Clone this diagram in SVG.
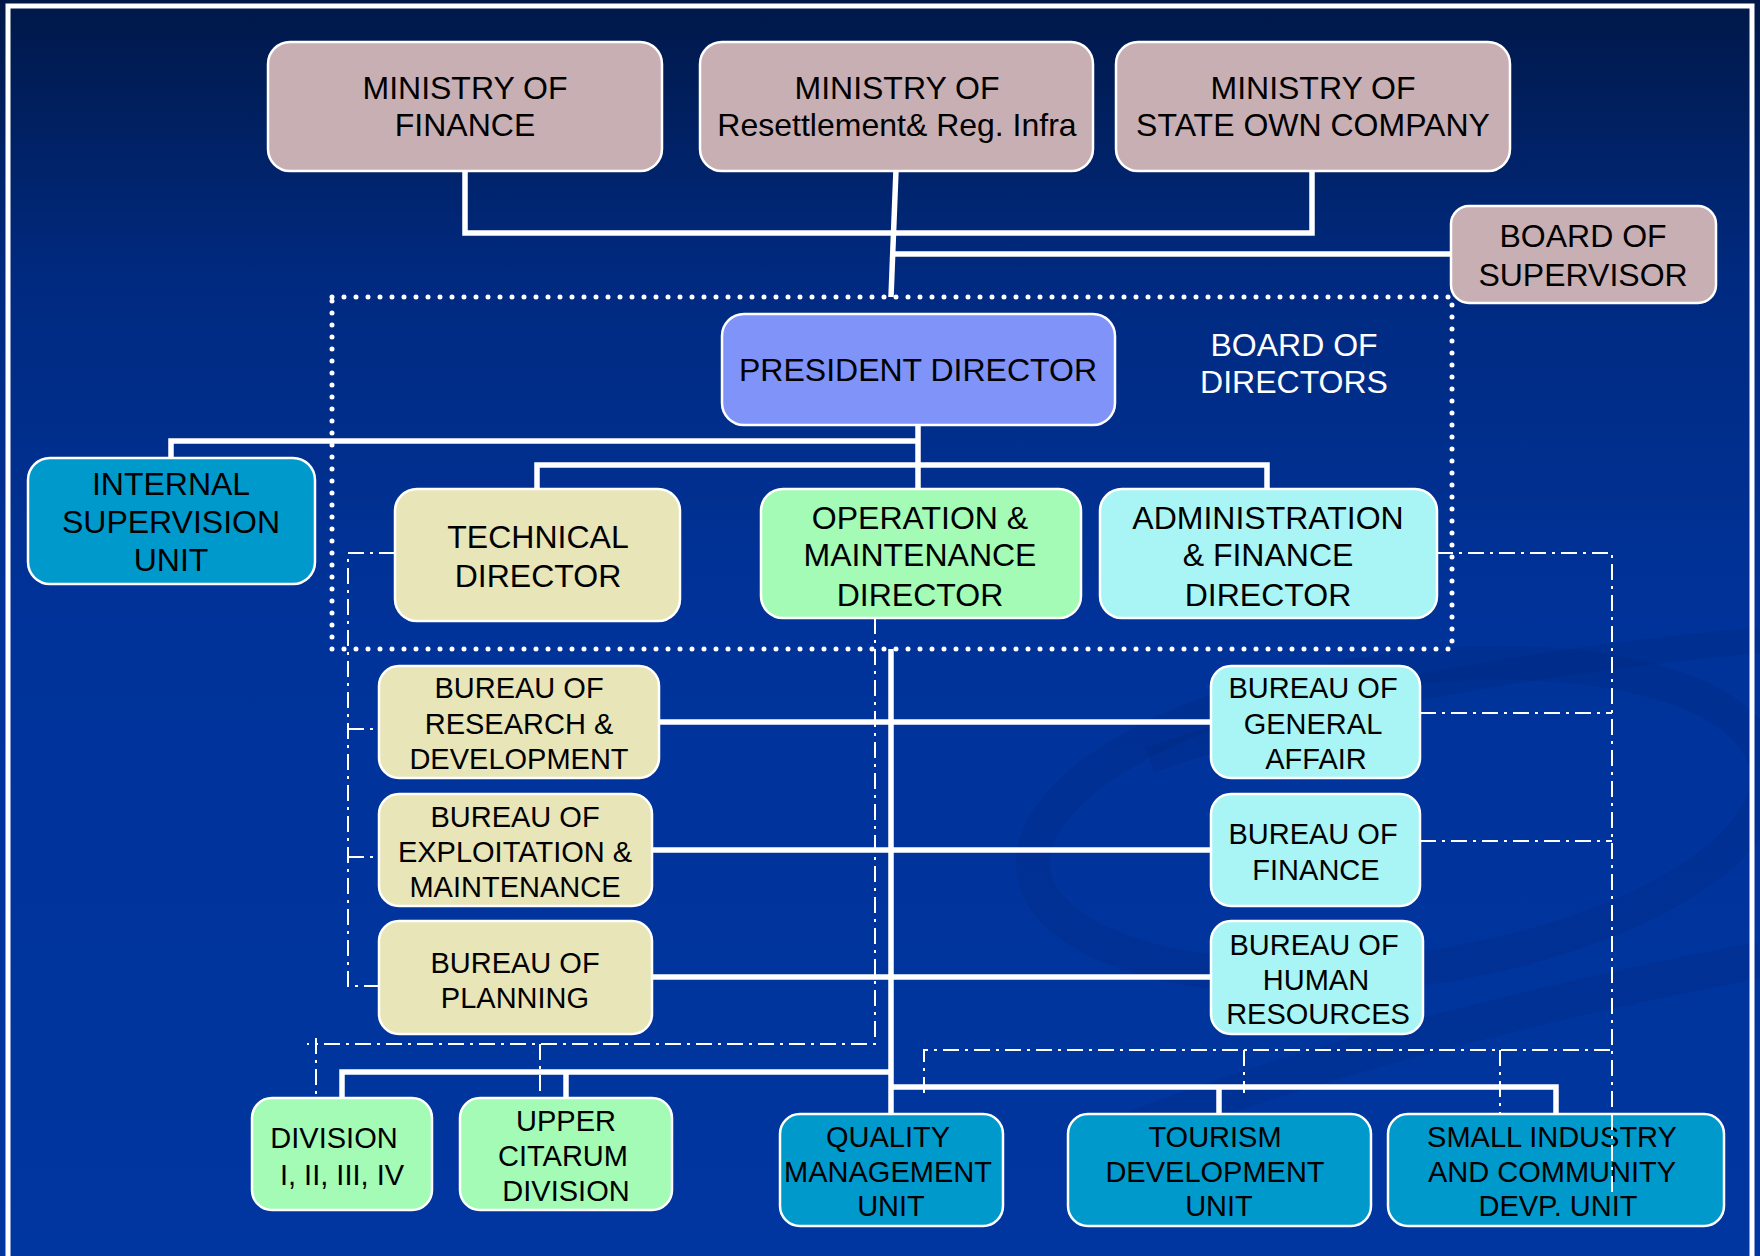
<svg xmlns="http://www.w3.org/2000/svg" width="1760" height="1256" viewBox="0 0 1760 1256">
<defs>
<linearGradient id="bg" x1="0" y1="0" x2="0" y2="1">
<stop offset="0" stop-color="#001848"/>
<stop offset="0.22" stop-color="#002a80"/>
<stop offset="0.5" stop-color="#00339a"/>
<stop offset="1" stop-color="#0036a0"/>
</linearGradient>
<style>
.box{stroke:#ffffff;stroke-width:2.5}
.pink{fill:#c8afb4}
.peri{fill:#7f93f8}
.teal{fill:#0099cc}
.beige{fill:#e8e5b9}
.green{fill:#a3fbb5}
.cyan{fill:#a9f5f5}
text{font-family:"Liberation Sans",Arial,sans-serif;fill:#000000;text-anchor:middle}
.t32{font-size:32px}
.t29{font-size:29px}
.white{fill:#ffffff}
.solid{fill:none;stroke:#ffffff;stroke-width:5.5;stroke-linejoin:miter}
.dd{fill:none;stroke:#ffffff;stroke-width:2;stroke-dasharray:16 6 3 6}
.dots{fill:none;stroke:#ffffff;stroke-width:5;stroke-linecap:round;stroke-dasharray:0 12}
.swoosh{fill:none;stroke:#002478;stroke-opacity:0.22}
</style>
</defs>
<rect x="0" y="0" width="1760" height="1256" fill="url(#bg)"/>
<g id="decoration">
<ellipse class="swoosh" cx="1400" cy="820" rx="370" ry="150" transform="rotate(-8 1400 820)" stroke-width="34"/>
<path class="swoosh" d="M1080 1150 C1300 1060 1550 1000 1760 960" stroke-width="36"/>
<path class="swoosh" d="M1150 760 C1350 690 1550 660 1760 640" stroke-width="26"/>
</g>
<rect x="8" y="6" width="1744" height="1280" fill="none" stroke="#ffffff" stroke-width="5"/>

<g id="board-of-directors-frame">
<rect class="dots" x="332" y="297" width="1120" height="352"/>
<text class="t32 white" x="1294" y="356">BOARD OF</text>
<text class="t32 white" x="1294" y="393">DIRECTORS</text>
</g>

<g id="connectors">
<polyline class="solid" points="465,170 465,233 1312,233 1312,170"/>
<line class="solid" x1="896" y1="170" x2="891" y2="297"/>
<line class="solid" x1="893" y1="254" x2="1452" y2="254"/>
<polyline class="solid" points="918,425 918,489"/>
<polyline class="solid" points="171,458 171,441 918,441"/>
<polyline class="solid" points="537,489 537,465 1267,465 1267,489"/>
<line class="solid" x1="891" y1="649" x2="891" y2="1114"/>
<line class="solid" x1="659" y1="722" x2="1211" y2="722"/>
<line class="solid" x1="652" y1="850" x2="1211" y2="850"/>
<line class="solid" x1="652" y1="977" x2="1211" y2="977"/>
<polyline class="solid" points="342,1098 342,1072 891,1072"/>
<line class="solid" x1="566" y1="1072" x2="566" y2="1098"/>
<polyline class="solid" points="891,1087 1556,1087 1556,1114"/>
<line class="solid" x1="1219" y1="1087" x2="1219" y2="1114"/>
<polyline class="dd" points="395,553 348,553 348,986 379,986"/>
<line class="dd" x1="348" y1="729" x2="379" y2="729"/>
<line class="dd" x1="348" y1="857" x2="379" y2="857"/>
<polyline class="dd" points="875,618 875,1044 307,1044"/>
<line class="dd" x1="316" y1="1038" x2="316" y2="1098"/>
<line class="dd" x1="540" y1="1044" x2="540" y2="1098"/>
<polyline class="dd" points="1437,553 1612,553 1612,1196"/>
<line class="dd" x1="1420" y1="713" x2="1612" y2="713"/>
<line class="dd" x1="1420" y1="841" x2="1612" y2="841"/>
<polyline class="dd" points="924,1093 924,1050 1612,1050"/>
<line class="dd" x1="1244" y1="1050" x2="1244" y2="1093"/>
<line class="dd" x1="1500" y1="1050" x2="1500" y2="1114"/>
</g>

<g id="ministry-finance">
<rect class="box pink" x="268" y="42" width="394" height="129" rx="22"/>
<text class="t32" x="465" y="99">MINISTRY OF</text>
<text class="t32" x="465" y="136">FINANCE</text>
</g>
<g id="ministry-resettlement">
<rect class="box pink" x="700" y="42" width="393" height="129" rx="22"/>
<text class="t32" x="897" y="99">MINISTRY OF</text>
<text class="t32" x="897" y="136">Resettlement&amp; Reg. Infra</text>
</g>
<g id="ministry-soc">
<rect class="box pink" x="1116" y="42" width="394" height="129" rx="22"/>
<text class="t32" x="1313" y="99">MINISTRY OF</text>
<text class="t32" x="1313" y="136">STATE OWN COMPANY</text>
</g>
<g id="board-supervisor">
<rect class="box pink" x="1451" y="206" width="265" height="97" rx="18"/>
<text class="t32" x="1583" y="247">BOARD OF</text>
<text class="t32" x="1583" y="286">SUPERVISOR</text>
</g>
<g id="president-director">
<rect class="box peri" x="722" y="314" width="393" height="111" rx="22"/>
<text class="t32" x="918" y="381">PRESIDENT DIRECTOR</text>
</g>
<g id="internal-supervision">
<rect class="box teal" x="28" y="458" width="287" height="126" rx="22"/>
<text class="t32" x="171" y="495">INTERNAL</text>
<text class="t32" x="171" y="533">SUPERVISION</text>
<text class="t32" x="171" y="571">UNIT</text>
</g>
<g id="technical-director">
<rect class="box beige" x="395" y="489" width="285" height="132" rx="22"/>
<text class="t32" x="538" y="548">TECHNICAL</text>
<text class="t32" x="538" y="587">DIRECTOR</text>
</g>
<g id="om-director">
<rect class="box green" x="761" y="489" width="320" height="129" rx="22"/>
<text class="t32" x="920" y="529">OPERATION &amp;</text>
<text class="t32" x="920" y="566">MAINTENANCE</text>
<text class="t32" x="920" y="606">DIRECTOR</text>
</g>
<g id="admin-director">
<rect class="box cyan" x="1100" y="489" width="337" height="129" rx="22"/>
<text class="t32" x="1268" y="529">ADMINISTRATION</text>
<text class="t32" x="1268" y="566">&amp; FINANCE</text>
<text class="t32" x="1268" y="606">DIRECTOR</text>
</g>
<g id="bureau-research">
<rect class="box beige" x="379" y="666" width="280" height="112" rx="20"/>
<text class="t29" x="519" y="698">BUREAU OF</text>
<text class="t29" x="519" y="734">RESEARCH &amp;</text>
<text class="t29" x="519" y="769">DEVELOPMENT</text>
</g>
<g id="bureau-exploitation">
<rect class="box beige" x="379" y="794" width="273" height="112" rx="20"/>
<text class="t29" x="515" y="827">BUREAU OF</text>
<text class="t29" x="515" y="862">EXPLOITATION &amp;</text>
<text class="t29" x="515" y="897">MAINTENANCE</text>
</g>
<g id="bureau-planning">
<rect class="box beige" x="379" y="921" width="273" height="113" rx="20"/>
<text class="t29" x="515" y="973">BUREAU OF</text>
<text class="t29" x="515" y="1008">PLANNING</text>
</g>
<g id="bureau-general-affair">
<rect class="box cyan" x="1211" y="666" width="209" height="112" rx="20"/>
<text class="t29" x="1313" y="698">BUREAU OF</text>
<text class="t29" x="1313" y="734">GENERAL</text>
<text class="t29" x="1316" y="769">AFFAIR</text>
</g>
<g id="bureau-finance">
<rect class="box cyan" x="1211" y="794" width="209" height="112" rx="20"/>
<text class="t29" x="1313" y="844">BUREAU OF</text>
<text class="t29" x="1316" y="880">FINANCE</text>
</g>
<g id="bureau-hr">
<rect class="box cyan" x="1211" y="921" width="212" height="113" rx="20"/>
<text class="t29" x="1314" y="955">BUREAU OF</text>
<text class="t29" x="1316" y="990">HUMAN</text>
<text class="t29" x="1318" y="1024">RESOURCES</text>
</g>
<g id="division-1-4">
<rect class="box green" x="252" y="1098" width="180" height="112" rx="20"/>
<text class="t29" x="334" y="1148">DIVISION</text>
<text class="t29" x="342" y="1185">I, II, III, IV</text>
</g>
<g id="upper-citarum">
<rect class="box green" x="460" y="1098" width="212" height="112" rx="20"/>
<text class="t29" x="566" y="1131">UPPER</text>
<text class="t29" x="563" y="1166">CITARUM</text>
<text class="t29" x="566" y="1201">DIVISION</text>
</g>
<g id="quality-unit">
<rect class="box teal" x="780" y="1114" width="223" height="112" rx="20"/>
<text class="t29" x="888" y="1147">QUALITY</text>
<text class="t29" x="888" y="1182">MANAGEMENT</text>
<text class="t29" x="891" y="1216">UNIT</text>
</g>
<g id="tourism-unit">
<rect class="box teal" x="1068" y="1114" width="303" height="112" rx="20"/>
<text class="t29" x="1215" y="1147">TOURISM</text>
<text class="t29" x="1215" y="1182">DEVELOPMENT</text>
<text class="t29" x="1219" y="1216">UNIT</text>
</g>
<g id="small-industry-unit">
<rect class="box teal" x="1388" y="1114" width="336" height="112" rx="20"/>
<text class="t29" x="1552" y="1147">SMALL INDUSTRY</text>
<text class="t29" x="1552" y="1182">AND COMMUNITY</text>
<text class="t29" x="1558" y="1216">DEVP. UNIT</text>
</g>
<line class="dd" x1="1612" y1="1114" x2="1612" y2="1196"/>
</svg>
